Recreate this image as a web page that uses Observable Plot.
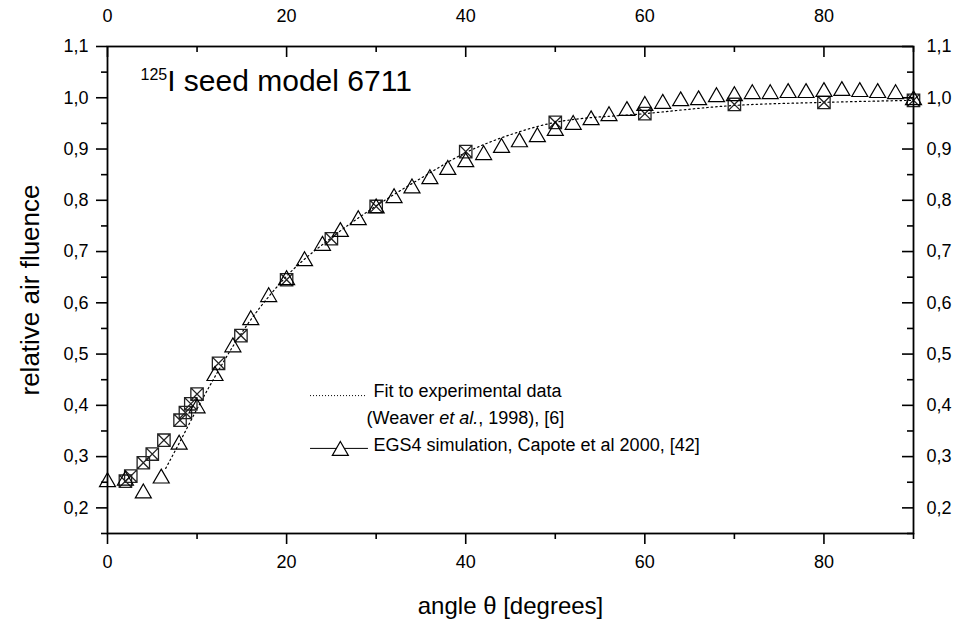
<!DOCTYPE html>
<html><head><meta charset="utf-8">
<script src="https://cdn.jsdelivr.net/npm/d3@7"></script>
<script src="https://cdn.jsdelivr.net/npm/@observablehq/plot@0.6"></script>
<style>
body{margin:0;background:#fff}
#chart svg{font-family:"Liberation Sans",Arial,sans-serif;}
</style>
</head><body><div id="chart"></div>
<script>
// EGS4 simulation (triangles), every 2 degrees
const egsAngle = [0,2,4,6,8,10,12,14,16,18,20,22,24,26,28,30,32,34,36,38,40,42,44,46,48,50,52,54,56,58,60,62,64,66,68,70,72,74,76,78,80,82,84,86,88,90];
const egsFluence = [0.255,0.258,0.233,0.262,0.328,0.399,0.462,0.518,0.571,0.616,0.649,0.686,0.716,0.743,0.766,0.789,0.809,0.828,0.846,0.864,0.879,0.893,0.907,0.918,0.928,0.940,0.952,0.961,0.969,0.979,0.989,0.993,0.998,1.000,1.006,1.008,1.012,1.012,1.014,1.014,1.016,1.018,1.016,1.014,1.012,1.000];
// Experimental data points (crossed squares)
const expAngle = [2,2.6,4,5,6.3,8.1,8.7,9.3,10,12.4,14.9,20,25,30,40,50,60,70,80,90];
const expFluence = [0.252,0.262,0.288,0.305,0.332,0.371,0.386,0.403,0.422,0.482,0.536,0.645,0.725,0.788,0.895,0.952,0.969,0.987,0.991,0.995];
// Fit to experimental data (dotted curve)
const fitAngle = [6.5,8,10,12,14,16,18,20,25,30,35,40,45,50,60,70,80,90];
const fitValue = [0.277,0.326,0.393,0.456,0.515,0.567,0.612,0.652,0.727,0.789,0.843,0.893,0.928,0.952,0.969,0.985,0.991,0.995];
// ticks
const xTicks = [0,20,40,60,80];
const xMinor = [10,30,50,70,90];
const yTicks = [0.2,0.3,0.4,0.5,0.6,0.7,0.8,0.9,1.0,1.1];
const yMinor = [0.15,0.25,0.35,0.45,0.55,0.65,0.75,0.85,0.95,1.05];
// texts
const xTitle = "angle θ [degrees]";
const yTitle = "relative air fluence";
const annotation = "125I seed model 6711";
const legendFit1 = "Fit to experimental data";
const legendFit2 = "(Weaver et al., 1998), [6]";
const legendEgs = "EGS4 simulation, Capote et al 2000, [42]";

const egs = egsAngle.map((a,i)=>({angle:a, value:egsFluence[i]}));
const exp = expAngle.map((a,i)=>({angle:a, value:expFluence[i]}));
const fit = fitAngle.map((a,i)=>({angle:a, value:fitValue[i]}));

const triSym = {draw(ctx, size){const r=Math.sqrt(size/Math.PI); const h=r*Math.sqrt(3); ctx.moveTo(0,-h/2); ctx.lineTo(r,h/2); ctx.lineTo(-r,h/2); ctx.closePath();}};
const boxXSym = {draw(ctx, size){const s=Math.sqrt(size/Math.PI); ctx.moveTo(-s,-s); ctx.lineTo(s,-s); ctx.lineTo(s,s); ctx.lineTo(-s,s); ctx.closePath(); ctx.moveTo(-s,-s); ctx.lineTo(s,s); ctx.moveTo(s,-s); ctx.lineTo(-s,s);}};

const W=960, H=625, mL=107, mR=47, mT=46, mB=92;
const fw = W-mL-mR, fh = H-mT-mB;
const fmtY = d => d.toFixed(1).replace(".", ",");

const chart = Plot.plot({
  width: W, height: H,
  marginLeft: mL, marginRight: mR, marginTop: mT, marginBottom: mB,
  x: {domain: [0, 90], label: null},
  y: {domain: [0.15, 1.1], label: null},
  style: {fontFamily: '"Liberation Sans", Arial, sans-serif', fontSize: "18px", color: "#000", background: "#fff", overflow: "visible"},
  marks: [
    // fit curve
    Plot.line(fit, {x: "angle", y: "value", curve: "monotone-x", stroke: "#000", strokeWidth: 1.2, strokeDasharray: "1.5,3"}),
    // experimental points
    Plot.dot(exp, {x: "angle", y: "value", symbol: boxXSym, r: 6.2, stroke: "#222", strokeWidth: 1.3, fill: "none"}),
    // EGS4 triangles
    Plot.dot(egs, {x: "angle", y: "value", symbol: triSym, r: 8, stroke: "#000", strokeWidth: 1.2, fill: "none"}),
    // frame
    Plot.frame({stroke: "#000", strokeWidth: 1.8}),
    // bottom axis
    Plot.axisX(xTicks, {anchor: "bottom", tickSize: 11, tickPadding: 11, strokeWidth: 1.6, fontSize: 18, label: null}),
    Plot.axisX(xMinor, {anchor: "bottom", tickSize: 6, tickFormat: () => "", strokeWidth: 1.6, label: null}),
    // top axis labels + inward ticks
    Plot.axisX(xTicks, {anchor: "top", tickSize: 0, tickPadding: 25, fontSize: 18, label: null}),
    Plot.tickX(xTicks, {x: d => d, insetBottom: fh - 11, stroke: "#000", strokeWidth: 1.6}),
    Plot.tickX(xMinor, {x: d => d, insetBottom: fh - 6, stroke: "#000", strokeWidth: 1.6}),
    // left axis
    Plot.axisY(yTicks, {anchor: "left", tickSize: 11, tickPadding: 8, strokeWidth: 1.6, fontSize: 18, tickFormat: fmtY, label: null}),
    Plot.axisY(yMinor, {anchor: "left", tickSize: 6, tickFormat: () => "", strokeWidth: 1.6, label: null}),
    // right axis labels + inward ticks
    Plot.axisY(yTicks, {anchor: "right", tickSize: 0, tickPadding: 13, fontSize: 18, tickFormat: fmtY, label: null}),
    Plot.tickY(yTicks, {y: d => d, insetLeft: fw - 11, stroke: "#000", strokeWidth: 1.6}),
    Plot.tickY(yMinor, {y: d => d, insetLeft: fw - 6, stroke: "#000", strokeWidth: 1.6}),
    // axis titles
    Plot.text([xTitle], {frameAnchor: "bottom", dy: 73, fontSize: 24, text: d => d, textAnchor: "middle", lineAnchor: "middle"}),
    Plot.text([yTitle], {frameAnchor: "left", dx: -77, rotate: -90, fontSize: 26, text: d => d, textAnchor: "middle", lineAnchor: "middle"}),
    // annotation
    Plot.text([annotation], {frameAnchor: "top-left", dx: 33, dy: 44, textAnchor: "start", lineAnchor: "bottom", fontSize: 30, text: d => d}),
    // legend
    Plot.ruleY([0.419], {x1: 22.67, x2: 29.03, stroke: "#000", strokeWidth: 1, strokeDasharray: "1,2"}),
    Plot.text([legendFit1], {x: 29.7, y: 0.427, textAnchor: "start", lineAnchor: "middle", fontSize: 18, text: d => d}),
    Plot.text([legendFit2], {x: 28.92, y: 0.374, textAnchor: "start", lineAnchor: "middle", fontSize: 18, text: d => d}),
    Plot.ruleY([0.316], {x1: 22.67, x2: 29.14, stroke: "#000", strokeWidth: 1}),
    Plot.dot([26.0], {x: d => d, y: 0.316, symbol: triSym, r: 8, stroke: "#000", strokeWidth: 1.2, fill: "#fff"}),
    Plot.text([legendEgs], {x: 29.7, y: 0.3216, textAnchor: "start", lineAnchor: "middle", fontSize: 18, text: d => d})
  ]
});
document.getElementById("chart").appendChild(chart);

// rich text formatting (superscript, italic) on real text elements
d3.select(chart).selectAll("text").each(function(){
  const t = this.textContent;
  if (t === annotation) {
    const el = d3.select(this); el.text("");
    el.append("tspan").attr("font-size", 16).attr("dy", "-11").text("125");
    el.append("tspan").attr("dy", "11").text("I seed model 6711");
  } else if (t === legendFit2) {
    const el = d3.select(this); el.text("");
    el.append("tspan").text("(Weaver ");
    el.append("tspan").attr("font-style", "italic").text("et al.");
    el.append("tspan").text(", 1998), [6]");
  }
});
</script>
</body></html>
